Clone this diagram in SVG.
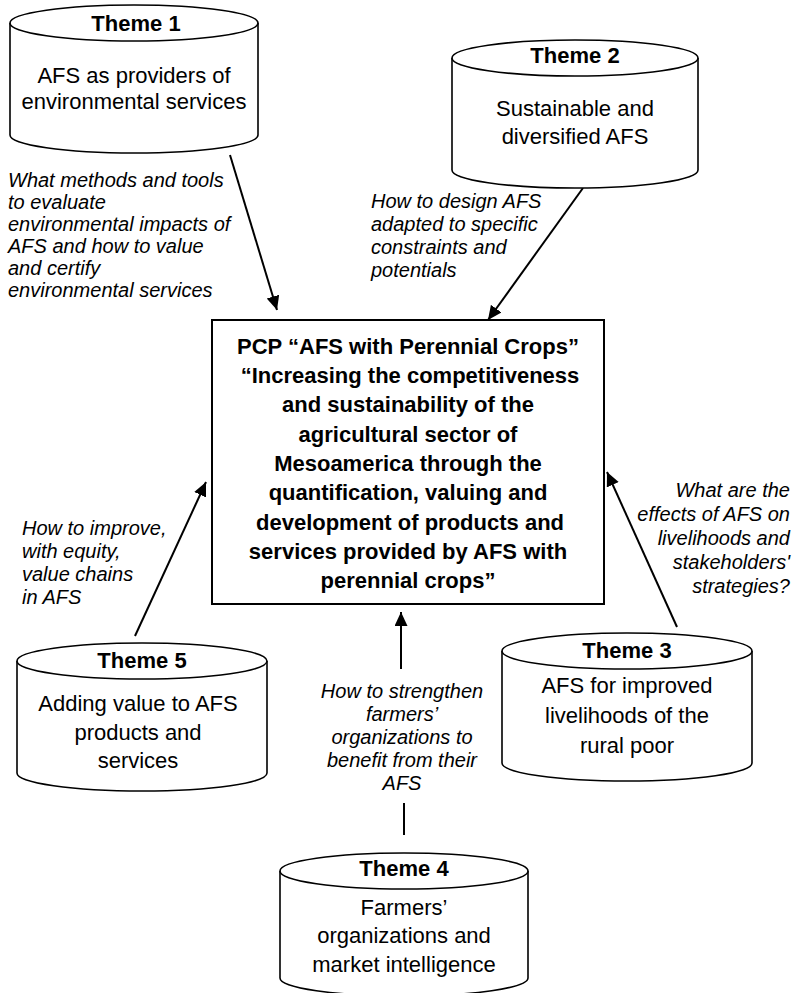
<svg xmlns="http://www.w3.org/2000/svg" width="797" height="993" viewBox="0 0 797 993">
<defs>
<style>
.cyl{fill:#fff;stroke:#000;stroke-width:1.6}
.box{fill:#fff;stroke:#000;stroke-width:2}
.th{font-family:"Liberation Sans",Arial,sans-serif;font-size:22px;font-weight:bold;text-anchor:middle;fill:#000}
.bd{font-family:"Liberation Sans",Arial,sans-serif;font-size:22px;text-anchor:middle;fill:#000}
.ct{font-family:"Liberation Sans",Arial,sans-serif;font-size:22px;font-weight:bold;text-anchor:middle;fill:#000}
.lb{font-family:"Liberation Sans",Arial,sans-serif;font-size:20px;font-style:italic;fill:#000}
.cn{stroke:#000;stroke-width:2;fill:none}
</style>
<marker id="ah" markerUnits="userSpaceOnUse" markerWidth="16" markerHeight="14" refX="14" refY="6.5" orient="auto">
<path d="M0,0 L14,6.5 L0,13 z" fill="#000"/>
</marker>
</defs>
<rect width="797" height="993" fill="#fff"/>

<g id="connectors">
<line class="cn" x1="230" y1="155" x2="277" y2="310" marker-end="url(#ah)"/>
<line class="cn" x1="583" y1="188" x2="488" y2="320" marker-end="url(#ah)"/>
<line class="cn" x1="135" y1="636" x2="206" y2="482" marker-end="url(#ah)"/>
<line class="cn" x1="677" y1="627" x2="607" y2="472" marker-end="url(#ah)"/>
<line class="cn" x1="401" y1="669" x2="401" y2="612" marker-end="url(#ah)"/>
<line class="cn" x1="404" y1="803" x2="404" y2="835"/>
</g>

<g id="theme1">
<path class="cyl" d="M10,23 L10,135 A124,18 0 0 0 258,135 L258,23"/>
<ellipse class="cyl" cx="134" cy="23" rx="124" ry="18"/>
<text class="th" x="136" y="31">Theme 1</text>
<text class="bd" x="134" y="83">AFS as providers of</text>
<text class="bd" x="134" y="109">environmental services</text>
</g>

<g id="theme2">
<path class="cyl" d="M452,58 L452,170 A123,18 0 0 0 698,170 L698,58"/>
<ellipse class="cyl" cx="575" cy="58" rx="123" ry="18"/>
<text class="th" x="575" y="63">Theme 2</text>
<text class="bd" x="575" y="116">Sustainable and</text>
<text class="bd" x="575" y="144">diversified AFS</text>
</g>

<g id="center">
<rect class="box" x="212" y="320" width="392" height="284"/>
<text class="ct" x="408" y="354">PCP “AFS with Perennial Crops”</text>
<text class="ct" x="410" y="383">“Increasing the competitiveness</text>
<text class="ct" x="408" y="412">and sustainability of the</text>
<text class="ct" x="408" y="442">agricultural sector of</text>
<text class="ct" x="408" y="471">Mesoamerica through the</text>
<text class="ct" x="408" y="500">quantification, valuing and</text>
<text class="ct" x="410" y="530">development of products and</text>
<text class="ct" x="408" y="559">services provided by AFS with</text>
<text class="ct" x="408" y="588">perennial crops”</text>
</g>

<g id="theme5">
<path class="cyl" d="M17,661 L17,773 A125,18 0 0 0 267,773 L267,661"/>
<ellipse class="cyl" cx="142" cy="661" rx="125" ry="18"/>
<text class="th" x="142" y="668">Theme 5</text>
<text class="bd" x="138" y="711">Adding value to AFS</text>
<text class="bd" x="138" y="740">products and</text>
<text class="bd" x="138" y="768">services</text>
</g>

<g id="theme3">
<path class="cyl" d="M502,651 L502,763 A125,18 0 0 0 752,763 L752,651"/>
<ellipse class="cyl" cx="627" cy="651" rx="125" ry="18"/>
<text class="th" x="627" y="658">Theme 3</text>
<text class="bd" x="627" y="693">AFS for improved</text>
<text class="bd" x="627" y="723">livelihoods of the</text>
<text class="bd" x="627" y="753">rural poor</text>
</g>

<g id="theme4">
<path class="cyl" d="M280,871 L280,978 A124,18 0 0 0 528,978 L528,871"/>
<ellipse class="cyl" cx="404" cy="871" rx="124" ry="18"/>
<text class="th" x="404" y="876">Theme 4</text>
<text class="bd" x="404" y="915">Farmers’</text>
<text class="bd" x="404" y="943">organizations and</text>
<text class="bd" x="404" y="972">market intelligence</text>
</g>

<g id="labels">
<text class="lb" x="8" y="187">What methods and tools</text>
<text class="lb" x="8" y="209">to evaluate</text>
<text class="lb" x="8" y="231">environmental impacts of</text>
<text class="lb" x="8" y="253">AFS and how to value</text>
<text class="lb" x="8" y="275">and certify</text>
<text class="lb" x="8" y="297">environmental services</text>

<text class="lb" x="371" y="208">How to design AFS</text>
<text class="lb" x="371" y="231">adapted to specific</text>
<text class="lb" x="371" y="254">constraints and</text>
<text class="lb" x="371" y="277">potentials</text>

<text class="lb" x="22" y="535">How to improve,</text>
<text class="lb" x="22" y="558">with equity,</text>
<text class="lb" x="22" y="581">value chains</text>
<text class="lb" x="22" y="604">in AFS</text>

<g text-anchor="end">
<text class="lb" x="790" y="497">What are the</text>
<text class="lb" x="790" y="521">effects of AFS on</text>
<text class="lb" x="790" y="545">livelihoods and</text>
<text class="lb" x="790" y="569">stakeholders'</text>
<text class="lb" x="790" y="593">strategies?</text>
</g>

<g text-anchor="middle">
<text class="lb" x="402" y="698">How to strengthen</text>
<text class="lb" x="402" y="721">farmers’</text>
<text class="lb" x="402" y="744">organizations to</text>
<text class="lb" x="402" y="767">benefit from their</text>
<text class="lb" x="402" y="790">AFS</text>
</g>
</g>
</svg>
